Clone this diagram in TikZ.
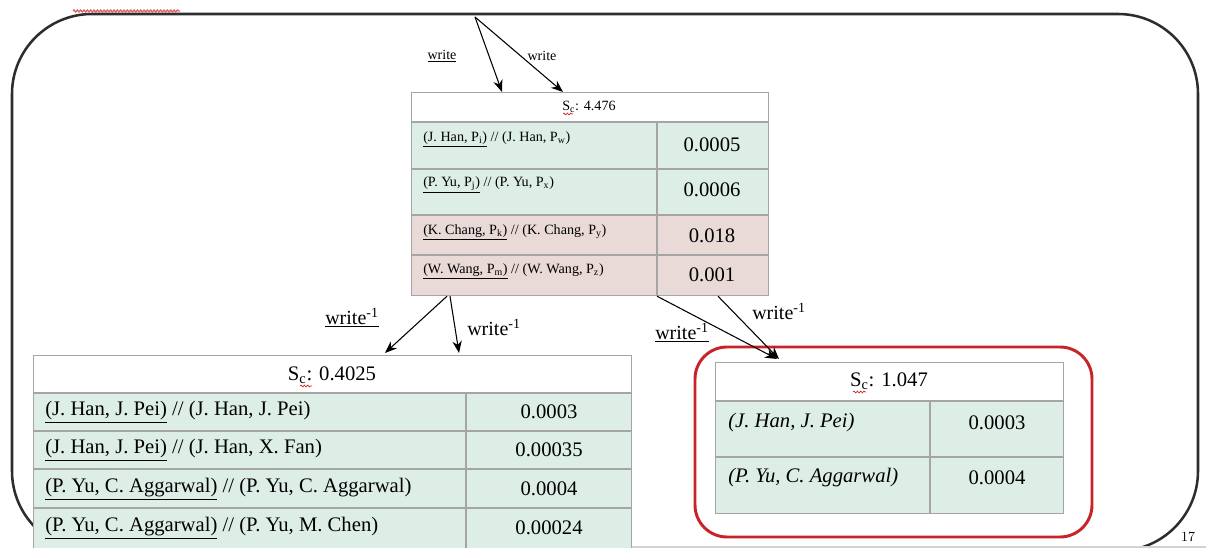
\documentclass[tikz,border=0pt]{standalone}
\usepackage{fontspec}
\newfontfamily\tnr{Liberation Serif}
\usetikzlibrary{arrows.meta,calc,decorations.pathmorphing}
\definecolor{mint}{RGB}{221,238,231}
\definecolor{rose}{RGB}{233,217,215}
\definecolor{gridc}{RGB}{165,165,165}
\definecolor{framec}{RGB}{45,45,45}
\definecolor{hired}{RGB}{200,35,40}
\tikzset{
  tbl/.style={draw=gridc, line width=0.9pt, inner sep=0pt, anchor=north west},
  gridline/.style={draw=gridc, line width=0.9pt},
  smalltxt/.style={font=\tnr\fontsize{10.6}{12}\selectfont, inner sep=0pt},
  bigtxt/.style={font=\tnr\fontsize{15.5}{18}\selectfont, inner sep=0pt},
  lbl/.style={font=\tnr\fontsize{15}{18}\selectfont, inner sep=0pt},
  toplbl/.style={font=\tnr\fontsize{10.5}{12}\selectfont, inner sep=0pt},
  arr/.style={-{Stealth[length=9pt,width=7pt]}, line width=0.8pt, black},
  squig/.style={hired, line width=0.5pt, decorate, decoration={snake, amplitude=0.7pt, segment length=2.5pt}}
}
\begin{document}
\begin{tikzpicture}[x=0.75pt,y=-0.75pt]
\useasboundingbox (0,0) rectangle (1206,548);
% outer frame
\draw[framec, line width=1.9pt, rounded corners=60pt] (12,14) rectangle (1198,551);
\draw[squig, line width=1pt, hired!70] (73,11) -- (180,11);
\draw[gray!35, line width=1pt] (33,547) -- (1206,547);

% ---------- top table ----------
\fill[white] (411,92) rectangle (768,122);
\fill[mint] (411,122) rectangle (768,215);
\fill[rose] (411,215) rectangle (768,295);
\draw[gridline] (411,122) -- (768,122);
\draw[gridline] (411,169) -- (768,169);
\draw[gridline] (411,215) -- (768,215);
\draw[gridline] (411,255) -- (768,255);
\draw[gridline] (657,122) -- (657,295);
\node[tbl, minimum width=267.75pt, minimum height=152.25pt] (topT) at (411,92) {};
\node[smalltxt] (topH) at (589,107) {S\textsubscript{c}: 4.476};
\draw[squig] (563,114) -- (573,114);
\node[smalltxt, anchor=west] (t1) at (423,139) {\underline{(J. Han, P\textsubscript{i})} // (J. Han, P\textsubscript{w})};
\node[smalltxt, anchor=west] (t2) at (423,185) {\underline{(P. Yu, P\textsubscript{j})} // (P. Yu, P\textsubscript{x})};
\node[smalltxt, anchor=west] (t3) at (423,232) {\underline{(K. Chang, P\textsubscript{k})} // (K. Chang, P\textsubscript{y})};
\node[smalltxt, anchor=west] (t4) at (423,271) {\underline{(W. Wang, P\textsubscript{m})} // (W. Wang, P\textsubscript{z})};
\node[bigtxt] (n1) at (712,145) {0.0005};
\node[bigtxt] (n2) at (712,190) {0.0006};
\node[bigtxt] (n3) at (712,236) {0.018};
\node[bigtxt] (n4) at (712,275) {0.001};

% ---------- left table ----------
\fill[white] (33,355) rectangle (631,393);
\fill[mint] (33,393) rectangle (631,549);
\draw[gridline] (33,393) -- (631,393);
\draw[gridline] (33,431) -- (631,431);
\draw[gridline] (33,469) -- (631,469);
\draw[gridline] (33,508) -- (631,508);
\draw[gridline] (466,393) -- (466,549);
\node[tbl, minimum width=448.5pt, minimum height=145.5pt] (leftT) at (33,355) {};
\node[bigtxt] (leftH) at (332,375) {S\textsubscript{c}: 0.4025};
\draw[squig] (300,386) -- (312,386);
\node[bigtxt, anchor=west] (l1) at (45,412) {\underline{(J. Han, J. Pei)} // (J. Han, J. Pei)};
\node[bigtxt, anchor=west] (l2) at (45,450) {\underline{(J. Han, J. Pei)} // (J. Han, X. Fan)};
\node[bigtxt, anchor=west] (l3) at (45,489) {\underline{(P. Yu, C. Aggarwal)} // (P. Yu, C. Aggarwal)};
\node[bigtxt, anchor=west] (l4) at (45,528) {\underline{(P. Yu, C. Aggarwal)} // (P. Yu, M. Chen)};
\node[bigtxt] (m1) at (549,412) {0.0003};
\node[bigtxt] (m2) at (549,450) {0.00035};
\node[bigtxt] (m3) at (549,489) {0.0004};
\node[bigtxt] (m4) at (549,528) {0.00024};

% ---------- right table ----------
\draw[hired, line width=2.2pt, rounded corners=24pt] (695,347) rectangle (1092,537);
\fill[white] (715,362) rectangle (1063,401);
\fill[mint] (715,401) rectangle (1063,513);
\draw[gridline] (715,401) -- (1063,401);
\draw[gridline] (715,457) -- (1063,457);
\draw[gridline] (930,401) -- (930,513);
\node[tbl, minimum width=261pt, minimum height=113.25pt] (rightT) at (715,362) {};
\node[bigtxt] (rightH) at (889,381) {S\textsubscript{c}: 1.047};
\draw[squig] (853,392) -- (866,392);
\node[bigtxt, anchor=west] (r1) at (728,423) {\itshape (J. Han, J. Pei)};
\node[bigtxt, anchor=west] (r2) at (728,478) {\itshape (P. Yu, C. Aggarwal)};
\node[bigtxt] (q1) at (997,423) {0.0003};
\node[bigtxt] (q2) at (997,478) {0.0004};

% ---------- connectors ----------
\coordinate (src) at (475,17);
\draw[arr] (src) -- ($(topT.north west)+(91,0)$);
\draw[arr] (src) -- ($(topT.north west)+(152,0)$);
\node[toplbl] (w1) at (442,56) {\underline{write}};
\node[toplbl] (w2) at (542,56) {write};

\draw[arr] ($(topT.south west)+(36,0)$) -- ($(leftT.north west)+(352,-2)$);
\draw[arr] ($(topT.south west)+(39,0)$) -- ($(leftT.north west)+(426,-2)$);
\node[lbl] (w3) at (352,318) {\underline{write\textsuperscript{-1}}};
\node[lbl] (w4) at (494,327) {write\textsuperscript{-1}};

\draw[arr] ($(topT.south west)+(246,0)$) -- ($(rightT.north west)+(62,-3)$);
\draw[arr] ($(topT.south west)+(307,0)$) -- ($(rightT.north west)+(64,-3)$);
\node[lbl] (w5) at (682,333) {\underline{write\textsuperscript{-1}}};
\node[lbl] (w6) at (779,311) {write\textsuperscript{-1}};

\node[inner sep=0pt] (pg) at (1188,537) {\fontsize{10.5}{12}\selectfont 17};
\end{tikzpicture}
\end{document}
